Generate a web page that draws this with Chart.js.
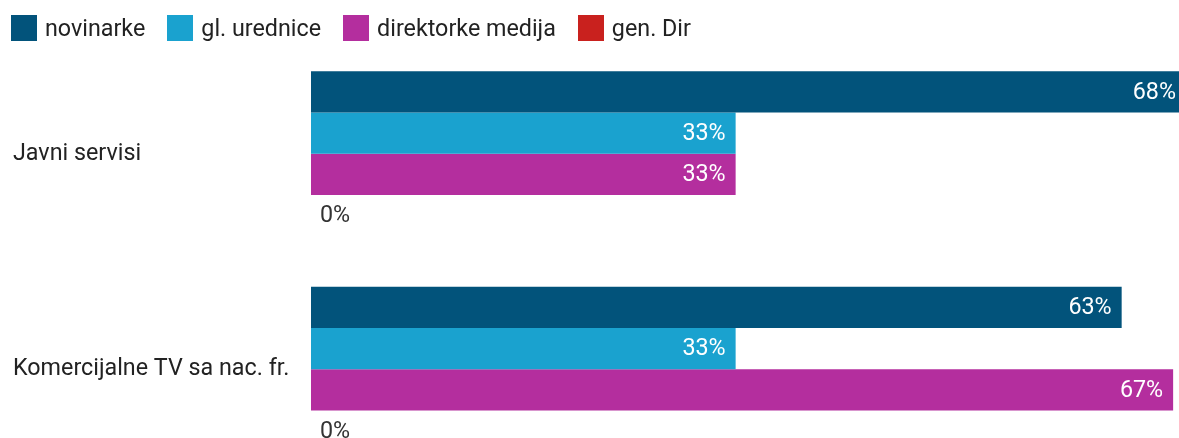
<!DOCTYPE html>
<html>
<head>
<meta charset="utf-8">
<script src="https://cdn.jsdelivr.net/npm/chart.js@4"></script>
<style>
  html, body { margin: 0; padding: 0; background: #fff; overflow: hidden; }
  #wrap { position: relative; width: 1186px; height: 494px; }
  #legend { position: absolute; left: 11px; top: 15px; display: flex; font-family: Roboto, sans-serif; font-size: 23.3px; color: #222; z-index: 2; }
  #legend .item { display: flex; align-items: center; margin-right: 22px; height: 26px; }
  #legend .box { width: 26px; height: 26px; margin-right: 8px; }
  canvas { position: absolute; left: 0; top: 0; }
</style>
</head>
<body>
<div id="wrap">
  <div id="legend"></div>
  <canvas id="chart" width="1186" height="494"></canvas>
</div>
<script>
const categories = ['Javni servisi', 'Komercijalne TV sa nac. fr.'];
const seriesNames = ['novinarke', 'gl. urednice', 'direktorke medija', 'gen. Dir'];
const novinarke = [68, 63];
const urednice = [33, 33];
const direktorke = [33, 67];
const genDir = [0, 0];
const colors = ['#02537b', '#1aa2cf', '#b42e9e', '#c9211e'];

const allSeries = [novinarke, urednice, direktorke, genDir];

// legend
const legend = document.getElementById('legend');
seriesNames.forEach((name, i) => {
  const item = document.createElement('div');
  item.className = 'item';
  item.innerHTML = `<span class="box" style="background:${colors[i]}"></span><span>${name}</span>`;
  legend.appendChild(item);
});

// value labels drawn on bars
const valueLabels = {
  id: 'valueLabels',
  afterDatasetsDraw(chart) {
    const ctx = chart.ctx;
    ctx.save();
    ctx.font = '23.3px Roboto, sans-serif';
    ctx.textBaseline = 'middle';
    chart.data.datasets.forEach((ds, di) => {
      chart.getDatasetMeta(di).data.forEach((bar, i) => {
        const v = ds.data[i];
        const txt = v + '%';
        if (v === 0) {
          ctx.fillStyle = '#333';
          ctx.textAlign = 'left';
          ctx.fillText(txt, bar.base + 9, bar.y + 1);
        } else {
          ctx.fillStyle = '#fff';
          ctx.textAlign = 'right';
          ctx.fillText(txt, bar.x - 10, bar.y + 1);
        }
      });
    });
    ctx.restore();
  }
};

new Chart(document.getElementById('chart'), {
  type: 'bar',
  data: {
    labels: categories,
    datasets: seriesNames.map((name, i) => ({
      label: name,
      data: allSeries[i],
      backgroundColor: colors[i],
      categoryPercentage: 0.765,
      barPercentage: 1
    }))
  },
  options: {
    indexAxis: 'y',
    responsive: false,
    animation: false,
    layout: { padding: { top: 46, left: 13, right: 0, bottom: 0 } },
    plugins: {
      legend: { display: false },
      tooltip: { enabled: false }
    },
    scales: {
      x: {
        display: false,
        min: 0,
        max: 68
      },
      y: {
        grid: { display: false },
        border: { display: false },
        afterFit(scale) { scale.width = 298; },
        ticks: {
          crossAlign: 'far',
          color: '#222',
          font: { family: 'Roboto', size: 23.3 }
        }
      }
    }
  },
  plugins: [valueLabels]
});
</script>
</body>
</html>
